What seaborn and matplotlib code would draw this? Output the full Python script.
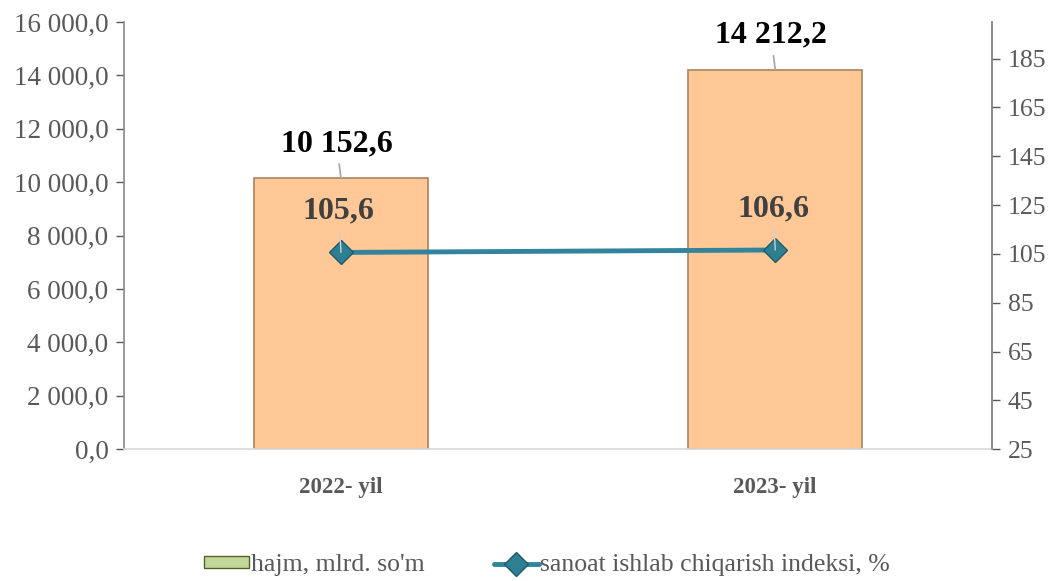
import matplotlib
matplotlib.use("Agg")
import matplotlib.pyplot as plt
import seaborn as sns
import pandas as pd
from matplotlib.patches import Patch
from matplotlib.lines import Line2D
from matplotlib.ticker import FuncFormatter

# --- DATA ---
years = ["2022- yil", "2023- yil"]
volume = [10152.6, 14212.2]
index_pct = [105.6, 106.6]
volume_labels = ["10 152,6", "14 212,2"]
index_labels = ["105,6", "106,6"]

BAR_COLOR = "#FFC896"
LINE_COLOR = "#31849B"
GREY = "#595959"

sns.set_theme(style="white")
plt.rcParams['font.family'] = ['Liberation Serif', 'DejaVu Serif']

df = pd.DataFrame({'year': years, 'volume': volume, 'index': index_pct})

fig = plt.figure(figsize=(10.58, 5.81), dpi=100)
ax = fig.add_axes([0.117, 0.227, 0.821, 0.735])

sns.barplot(data=df, x='year', y='volume', ax=ax, color=BAR_COLOR,
            width=0.40, edgecolor="#A88460", linewidth=1.2, saturation=1)
ax.set_xlim(-0.5, 1.5)
ax.set_ylim(0, 16000)
ax.set_yticks(range(0, 16001, 2000))
ax.yaxis.set_major_formatter(FuncFormatter(
    lambda v, p: f"{v:,.1f}".replace(",", " ").replace(".", ",")))
ax.set_xlabel("")
ax.set_ylabel("")
ax.tick_params(axis='y', colors=GREY, labelsize=19.5, length=6, width=1,
               direction='out', left=True, pad=5)
ax.tick_params(axis='x', colors="#595959", labelsize=16.5, length=0, pad=20)
for lbl in ax.get_xticklabels():
    lbl.set_fontweight('bold')
ax.spines['top'].set_visible(False)
ax.spines['left'].set_color("#8C8C8C")
ax.spines['right'].set_color("#8C8C8C")
ax.spines['bottom'].set_color("#D9D9D9")

ax2 = ax.twinx()
sns.lineplot(data=df, x='year', y='index', ax=ax2, color=LINE_COLOR,
             linewidth=3.5, marker='D', markersize=12,
             markerfacecolor="#2F7F93", markeredgecolor="#1F5A68",
             markeredgewidth=1)
ax2.set_ylim(25, 200)
ax2.set_yticks(range(25, 186, 20))
ax2.set_ylabel("")
ax2.tick_params(axis='y', colors=GREY, labelsize=18.5, length=6, width=1,
                direction='out', right=True, pad=5)
for s in ['top', 'left', 'bottom']:
    ax2.spines[s].set_visible(False)
ax2.spines['right'].set_color("#8C8C8C")
ax2.set_xlim(-0.5, 1.5)

# data labels for bars
for i, (v, t) in enumerate(zip(volume, volume_labels)):
    ax.annotate(t, xy=(i, v), xytext=(i - 0.01, v + 1300),
                ha='center', va='center', fontsize=23, fontweight='bold',
                color='black',
                arrowprops=dict(arrowstyle='-', color="#A6A6A6", lw=1.2,
                                shrinkA=2, shrinkB=0))

# data labels for line
for i, (v, t) in enumerate(zip(index_pct, index_labels)):
    ax2.annotate(t, xy=(i, v), xytext=(i - 0.005, v + 17),
                 ha='center', va='center', fontsize=23, fontweight='bold',
                 color="#404040",
                 arrowprops=dict(arrowstyle='-', color="#D0D0D0", lw=1,
                                 shrinkA=2, shrinkB=0))

handles = [Patch(facecolor="#C4D79B", edgecolor="#4F6228", label="hajm, mlrd. so'm"),
           Line2D([0], [0], color=LINE_COLOR, lw=3.5, marker='D', markersize=12,
                  markerfacecolor="#2F7F93", markeredgecolor="#1F5A68",
                  label="sanoat ishlab chiqarish indeksi, %")]
fig.legend(handles=handles, loc='center', bbox_to_anchor=(0.517, 0.027), ncol=2,
           frameon=False, fontsize=18.5, labelcolor=GREY, handlelength=1.75,
           handleheight=0.3, handletextpad=0.05, columnspacing=2.7,
           borderpad=0.1)

fig.savefig("out.png", dpi=100)
